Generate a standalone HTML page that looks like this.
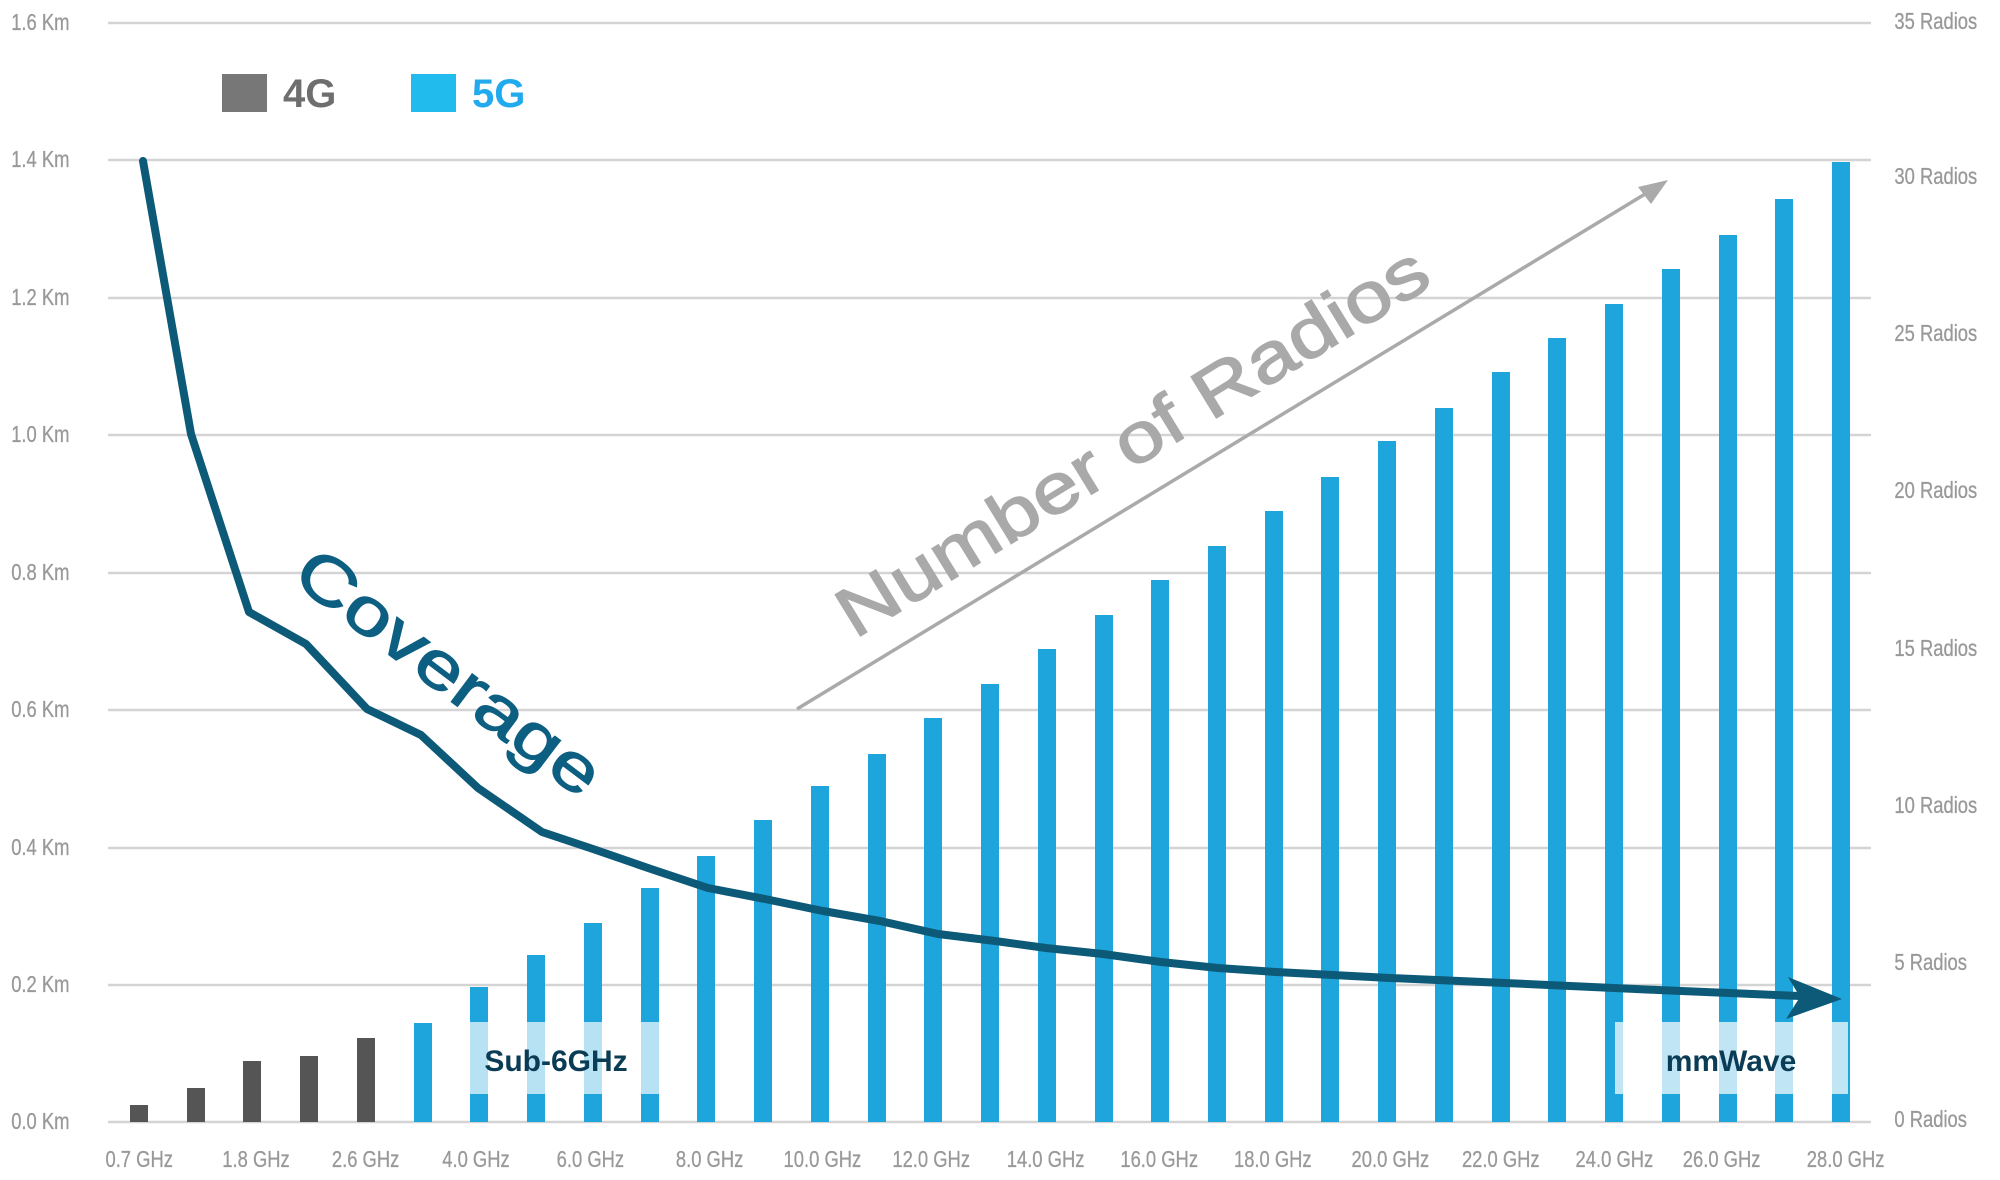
<!DOCTYPE html>
<html><head><meta charset="utf-8"><style>
html,body{margin:0;padding:0;background:#fff;}
svg{display:block;}
text{font-family:"Liberation Sans",sans-serif;}
</style></head><body>
<svg width="2000" height="1180" viewBox="0 0 2000 1180" xmlns="http://www.w3.org/2000/svg">
<g stroke="#d4d4d4" stroke-width="2.5">
<line x1="108" y1="23" x2="1871" y2="23"/>
<line x1="108" y1="160" x2="1871" y2="160"/>
<line x1="108" y1="298" x2="1871" y2="298"/>
<line x1="108" y1="435" x2="1871" y2="435"/>
<line x1="108" y1="573" x2="1871" y2="573"/>
<line x1="108" y1="710" x2="1871" y2="710"/>
<line x1="108" y1="848" x2="1871" y2="848"/>
<line x1="108" y1="985" x2="1871" y2="985"/>
<line x1="108" y1="1122" x2="1871" y2="1122"/>
</g>
<g fill="#999" font-size="23" stroke="#999" stroke-width="0.3" transform="scale(0.8,1)">
<text x="14" y="30">1.6 Km</text>
<text x="14" y="167">1.4 Km</text>
<text x="14" y="305">1.2 Km</text>
<text x="14" y="442">1.0 Km</text>
<text x="14" y="580">0.8 Km</text>
<text x="14" y="717">0.6 Km</text>
<text x="14" y="855">0.4 Km</text>
<text x="14" y="992">0.2 Km</text>
<text x="14" y="1129">0.0 Km</text>
<text x="2368" y="29">35 Radios</text>
<text x="2368" y="184">30 Radios</text>
<text x="2368" y="341">25 Radios</text>
<text x="2368" y="498">20 Radios</text>
<text x="2368" y="656">15 Radios</text>
<text x="2368" y="813">10 Radios</text>
<text x="2368" y="970">5 Radios</text>
<text x="2368" y="1127">0 Radios</text>
</g>
<g fill="#999" stroke="#999" stroke-width="0.3" font-size="23" text-anchor="middle">
<g transform="translate(0,1167) scale(0.8,1)">
<text x="174">0.7 GHz</text><text x="320">1.8 GHz</text><text x="457">2.6 GHz</text><text x="595">4.0 GHz</text>
<text x="738">6.0 GHz</text><text x="887">8.0 GHz</text><text x="1028">10.0 GHz</text><text x="1164">12.0 GHz</text>
<text x="1307">14.0 GHz</text><text x="1449">16.0 GHz</text><text x="1591">18.0 GHz</text><text x="1738">20.0 GHz</text>
<text x="1876">22.0 GHz</text><text x="2018">24.0 GHz</text><text x="2152">26.0 GHz</text><text x="2307">28.0 GHz</text>
</g></g>
<g fill="#555">
<rect x="130" y="1105" width="18" height="17"/>
<rect x="187" y="1088" width="18" height="34"/>
<rect x="243" y="1061" width="18" height="61"/>
<rect x="300" y="1056" width="18" height="66"/>
<rect x="357" y="1038" width="18" height="84"/>
</g>
<g fill="#1ea5dc">
<rect x="414" y="1023" width="18" height="99"/>
<rect x="470" y="987" width="18" height="135"/>
<rect x="527" y="955" width="18" height="167"/>
<rect x="584" y="923" width="18" height="199"/>
<rect x="641" y="888" width="18" height="234"/>
<rect x="697" y="856" width="18" height="266"/>
<rect x="754" y="820" width="18" height="302"/>
<rect x="811" y="786" width="18" height="336"/>
<rect x="868" y="754" width="18" height="368"/>
<rect x="924" y="718" width="18" height="404"/>
<rect x="981" y="684" width="18" height="438"/>
<rect x="1038" y="649" width="18" height="473"/>
<rect x="1095" y="615" width="18" height="507"/>
<rect x="1151" y="580" width="18" height="542"/>
<rect x="1208" y="546" width="18" height="576"/>
<rect x="1265" y="511" width="18" height="611"/>
<rect x="1321" y="477" width="18" height="645"/>
<rect x="1378" y="441" width="18" height="681"/>
<rect x="1435" y="408" width="18" height="714"/>
<rect x="1492" y="372" width="18" height="750"/>
<rect x="1548" y="338" width="18" height="784"/>
<rect x="1605" y="304" width="18" height="818"/>
<rect x="1662" y="269" width="18" height="853"/>
<rect x="1719" y="235" width="18" height="887"/>
<rect x="1775" y="199" width="18" height="923"/>
<rect x="1832" y="162" width="18" height="960"/>
</g>
<rect x="470" y="1022" width="189" height="72" fill="#fff" opacity="0.68"/>
<rect x="1615" y="1022" width="233" height="72" fill="#fff" opacity="0.72"/>
<text x="556" y="1071" font-size="30" font-weight="bold" fill="#0b3c55" text-anchor="middle">Sub-6GHz</text>
<text x="1731" y="1071" font-size="30" font-weight="bold" fill="#0b3c55" text-anchor="middle">mmWave</text>
<rect x="222" y="74" width="45" height="38" fill="#777"/>
<text x="283" y="107" font-size="40" font-weight="bold" fill="#6e6e6e">4G</text>
<rect x="411" y="74" width="45" height="38" fill="#22bbee"/>
<text x="472" y="107" font-size="40" font-weight="bold" fill="#22aaee">5G</text>
<line x1="797" y1="709" x2="1655" y2="188" stroke="#aaa" stroke-width="3.5"/>
<polygon points="1668,180 1638,187 1651,204" fill="#aaa"/>
<text x="1135" y="446" font-size="70" fill="#a9a9a9" stroke="#a9a9a9" stroke-width="1.5" text-anchor="middle" dominant-baseline="middle" textLength="680" lengthAdjust="spacingAndGlyphs" transform="rotate(-31.5 1135 446)">Number of Radios</text>
<text x="446" y="676" font-size="66" fill="#0d5f82" stroke="#0d5f82" stroke-width="1.2" text-anchor="middle" dominant-baseline="middle" textLength="365" lengthAdjust="spacingAndGlyphs" transform="rotate(37 446 676)">Coverage</text>
<polyline fill="none" stroke="#0d5a78" stroke-width="8" stroke-linejoin="round" stroke-linecap="round"
points="143,161 191,434 249,612 306,644 367,709 421,735 478,788 542,832 593,849 651,869 708,888 765,899 823,911 880,921 938,934 995,941 1046,948 1103,954 1161,962 1218,968 1276,972 1390,978 1505,983 1658,990 1800,996"/>
<polygon points="1842,999 1788,977 1800,997 1786,1019" fill="#0d5a78"/>
</svg>
</body></html>
